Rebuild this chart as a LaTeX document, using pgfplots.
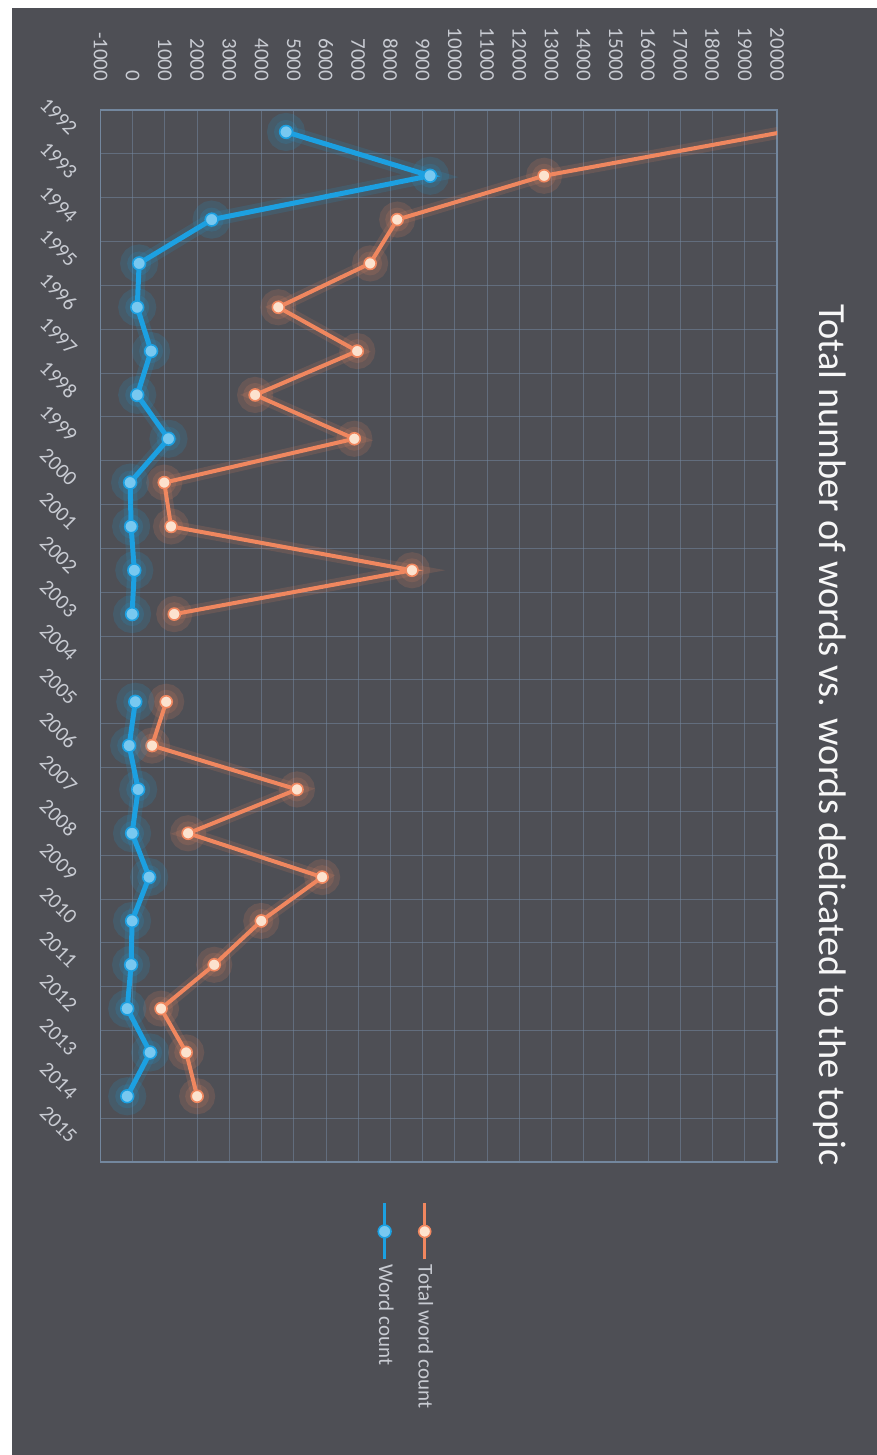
\documentclass[border=0pt]{standalone}
\usepackage{pgfplots}
\usepackage{pgfplotstable}
\pgfplotsset{compat=1.18}
\usepackage{fontspec}
\setmainfont{Carlito}
\definecolor{bgc}{RGB}{78,79,85}
\definecolor{gridc}{RGB}{115,135,158}
\definecolor{orangec}{RGB}{240,135,95}
\definecolor{orangem}{RGB}{252,226,206}
\definecolor{bluec}{RGB}{28,160,225}
\definecolor{bluem}{RGB}{120,200,240}
\definecolor{labc}{RGB}{200,203,210}

\pgfplotstableread{
year total words
1992 20200 4760
1993 12770 9230
1994 8210 2450
1995 7370 200
1996 4520 140
1997 6970 570
1998 3800 140
1999 6880 1110
2000 980 -80
2001 1190 -50
2002 8670 50
2003 1290 -20
2004 nan nan
2005 1040 80
2006 600 -110
2007 5100 170
2008 1720 -20
2009 5880 510
2010 3990 -20
2011 2530 -50
2012 880 -170
2013 1660 540
2014 2000 -170
}\datatable

\begin{document}
\begin{tikzpicture}
\useasboundingbox (0,0) rectangle (438.5pt,-727.5pt);
\fill[white] (0,0) rectangle (438.5pt,-727.5pt);
\fill[bgc] (6pt,-4pt) rectangle (438.5pt,-727.5pt);
\begin{axis}[
  at={(50.25pt,-55pt)}, anchor=north west,
  scale only axis, width=338.25pt, height=526pt,
  xmin=-1000, xmax=20000, ymin=1991.5, ymax=2015.5,
  y dir=reverse,
  axis line style={gridc, line width=0.6pt},
  xtick={-1000,0,...,20000},
  ytick={1992,...,2015},
  minor ytick={1991.5,1992.5,...,2015.5},
  scaled x ticks=false,
  xmajorgrids, yminorgrids,
  grid style={gridc, line width=0.5pt, opacity=0.55},
  minor grid style={gridc, line width=0.5pt, opacity=0.55},
  major tick length=0pt, minor tick length=0pt,
  xticklabel pos=upper,
  /pgf/number format/1000 sep={},
  /pgf/number format/assume math mode=true,
  xticklabel style={rotate=-90, anchor=east, inner sep=1pt, font=\fontsize{10.5}{12}\selectfont, text=labc},
  xticklabel shift=13.3pt,
  yticklabel style={rotate=-45, anchor=east, inner sep=0pt, font=\fontsize{10.5}{12}\selectfont, text=labc},
  yticklabel shift=13.3pt,
  unbounded coords=jump,
  legend columns=2,
  reverse legend,
  legend style={at={(0.446,-0.087)}, anchor=north,
    draw=none, fill=none, text=labc, font=\fontsize{10.5}{12}\selectfont,
    nodes={rotate=-90, anchor=west},
    /tikz/every even column/.append style={column sep=5pt}},
  legend image code/.code={
    \path (0pt,0pt);
    \draw[overlay, mark repeat=2, mark phase=2, line width=1.5pt] plot coordinates {(7.5pt,0.5pt) (7.5pt,14.5pt) (7.5pt,28.5pt)};
  },
]
\addplot[orangec, line width=6pt, opacity=0.15, mark=*, mark size=6pt, forget plot] table[x=total, y=year] {\datatable};
\addplot[orangec, line width=2pt, mark=*, mark size=3pt, mark options={fill=orangem, draw=orangec, line width=0.8pt}] table[x=total, y=year] {\datatable};
\addlegendentry{Total word count}
\addplot[bluec, line width=7pt, opacity=0.15, mark=*, mark size=6pt, forget plot] table[x=words, y=year] {\datatable};
\addplot[bluec, line width=2.5pt, mark=*, mark size=3.2pt, mark options={fill=bluem, draw=bluec, line width=0.8pt}] table[x=words, y=year] {\datatable};
\addlegendentry{Word count}
\end{axis}
\node[rotate=-90, text=white!94!gray, font=\fontsize{19.2}{22}\selectfont] at (415pt,-367.5pt) {Total number of words vs. words dedicated to the topic};
\end{tikzpicture}
\end{document}
